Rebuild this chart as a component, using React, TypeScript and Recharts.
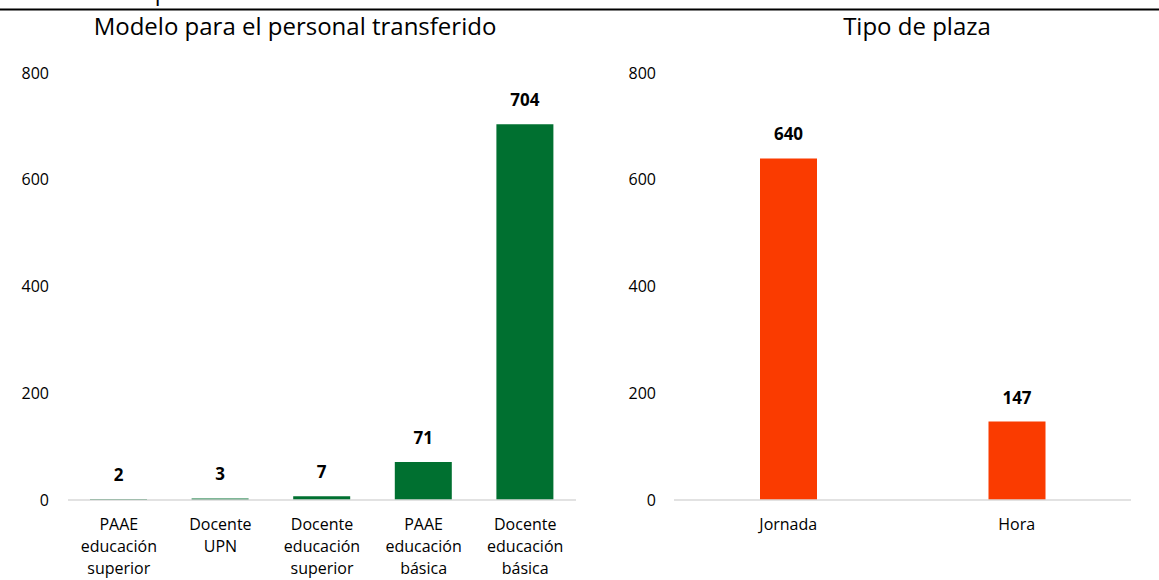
import React from "react";
import { BarChart, Bar, XAxis, YAxis, LabelList } from "recharts";

const modelCategories = [
  "PAAE educación superior",
  "Docente UPN",
  "Docente educación superior",
  "PAAE educación básica",
  "Docente educación básica",
];
const modelValues = [2, 3, 7, 71, 704];
const plazaCategories = ["Jornada", "Hora"];
const plazaValues = [640, 147];
const yTicks = [0, 200, 400, 600, 800];

const FONT = "'Segoe UI', 'Open Sans', 'Noto Sans', sans-serif";
const GREEN = "#007030";
const ORANGE = "#FA3B00";

const modelData = modelCategories.map((c, i) => ({ name: c, value: modelValues[i] }));
const plazaData = plazaCategories.map((c, i) => ({ name: c, value: plazaValues[i] }));

const MultiTick = (props: any) => {
  const { x, y, payload } = props;
  const words = String(payload.value).split(" ");
  return (
    <g>
      {words.map((w: string, i: number) => (
        <text
          key={i}
          x={x}
          y={y + 28 + i * 22}
          textAnchor="middle"
          fontSize={16}
          fontFamily={FONT}
          fill="#000"
        >
          {w}
        </text>
      ))}
    </g>
  );
};

const labelStyle = { fontSize: 17, fontWeight: 700, fontFamily: FONT, fill: "#000" };

export default function App() {
  return (
    <div style={{ position: "absolute", left: 0, top: 0, width: 1159, height: 580, background: "#fff", fontFamily: FONT }}>
      <svg width={1159} height={580} style={{ position: "absolute", left: 0, top: 0 }}>
        <text x={27} y={0} fontSize={23} fontFamily={FONT} fill="#000">Número de personas</text>
        <rect x={0} y={8.5} width={1159} height={2} fill="#000" />
        <text x={295} y={35} textAnchor="middle" fontSize={24} fontFamily={FONT} fill="#000">
          Modelo para el personal transferido
        </text>
        <text x={917} y={35} textAnchor="middle" fontSize={24} fontFamily={FONT} fill="#000">
          Tipo de plaza
        </text>
      </svg>
      <div style={{ position: "absolute", left: 0, top: 0 }}>
        <BarChart width={600} height={580} data={modelData} margin={{ top: 73, right: 24, bottom: 0, left: 0 }}>
          <YAxis
            width={68}
            domain={[0, 800]}
            ticks={yTicks}
            axisLine={false}
            tickLine={false}
            tickSize={0}
            tickMargin={19}
            tick={{ fontSize: 16, fontFamily: FONT, fill: "#000" }}
          />
          <XAxis
            dataKey="name"
            height={80}
            interval={0}
            tickLine={false}
            tickSize={0}
            axisLine={{ stroke: "#d9d9d9", strokeWidth: 1.5 }}
            tick={<MultiTick />}
          />
          <Bar dataKey="value" fill={GREEN} barSize={57} isAnimationActive={false}>
            <LabelList dataKey="value" position="top" offset={18} style={labelStyle} />
          </Bar>
        </BarChart>
      </div>
      <div style={{ position: "absolute", left: 600, top: 0 }}>
        <BarChart width={559} height={580} data={plazaData} margin={{ top: 73, right: 28, bottom: 0, left: 0 }}>
          <YAxis
            width={74}
            domain={[0, 800]}
            ticks={yTicks}
            axisLine={false}
            tickLine={false}
            tickSize={0}
            tickMargin={18}
            tick={{ fontSize: 16, fontFamily: FONT, fill: "#000" }}
          />
          <XAxis
            dataKey="name"
            height={80}
            interval={0}
            tickLine={false}
            tickSize={0}
            axisLine={{ stroke: "#d9d9d9", strokeWidth: 1.5 }}
            tick={<MultiTick />}
          />
          <Bar dataKey="value" fill={ORANGE} barSize={57} isAnimationActive={false}>
            <LabelList dataKey="value" position="top" offset={18} style={labelStyle} />
          </Bar>
        </BarChart>
      </div>
    </div>
  );
}
